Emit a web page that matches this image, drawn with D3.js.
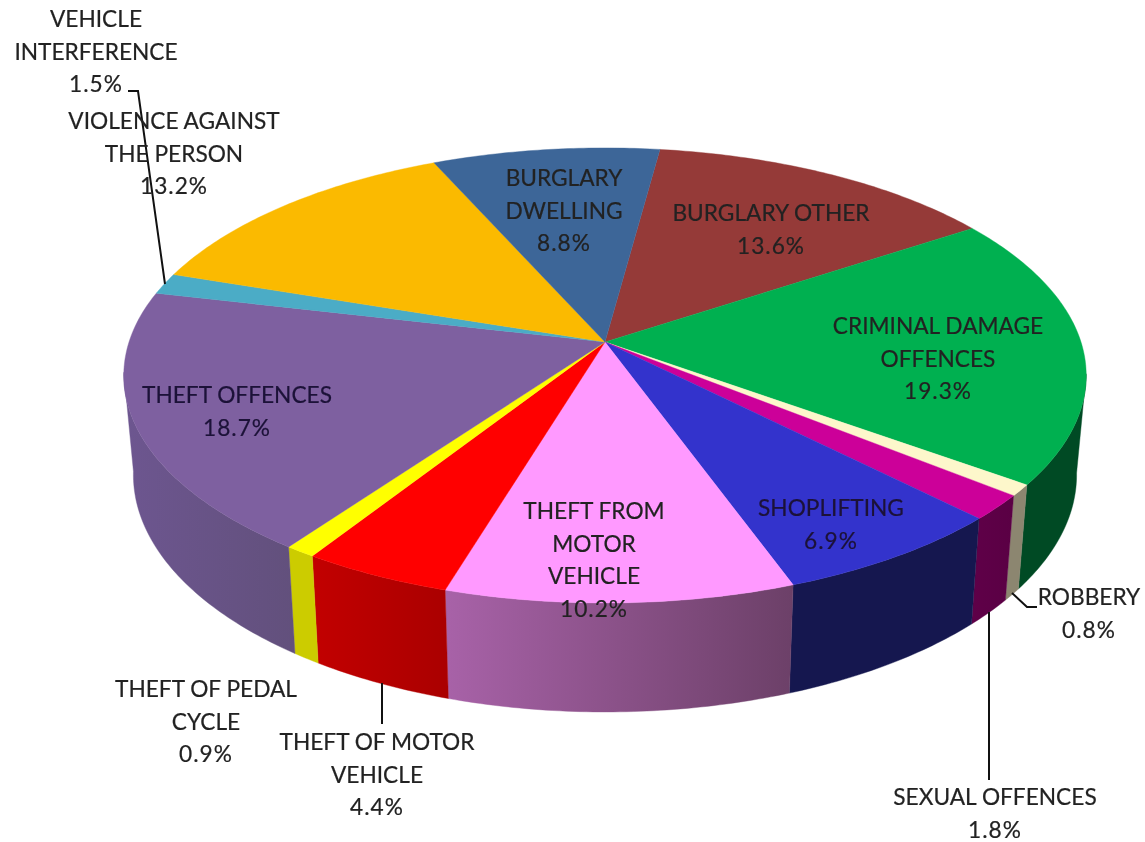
<!DOCTYPE html>
<html><head><meta charset="utf-8">
<style>html,body{margin:0;padding:0;background:#fff}svg{display:block;filter:blur(.55px)}</style>
<script src="https://cdn.jsdelivr.net/npm/d3@7/dist/d3.min.js"></script>
</head><body>
<svg id="c" width="1145" height="842"></svg>
<script>
const categories = ["BURGLARY OTHER","CRIMINAL DAMAGE OFFENCES","ROBBERY","SEXUAL OFFENCES","SHOPLIFTING","THEFT FROM MOTOR VEHICLE","THEFT OF MOTOR VEHICLE","THEFT OF PEDAL CYCLE","THEFT OFFENCES","VEHICLE INTERFERENCE","VIOLENCE AGAINST THE PERSON","BURGLARY DWELLING"];
const values = [13.6,19.3,0.8,1.8,6.9,10.2,4.4,0.9,18.7,1.5,13.2,8.8];
const labelLines = [["BURGLARY OTHER"],["CRIMINAL DAMAGE","OFFENCES"],["ROBBERY"],["SEXUAL OFFENCES"],["SHOPLIFTING"],["THEFT FROM","MOTOR","VEHICLE"],["THEFT OF MOTOR","VEHICLE"],["THEFT OF PEDAL","CYCLE"],["THEFT OFFENCES"],["VEHICLE","INTERFERENCE"],["VIOLENCE AGAINST","THE PERSON"],["BURGLARY","DWELLING"]];
const topColors = ["#953a38","#00b050","#fdf7cb","#cc0099","#3333cc","#ff99ff","#ff0000","#ffff00","#7e60a0","#4bacc6","#fbba00","#3d6698"];
const wallLeft = ["#5a2322","#004a24","#8c8670","#5f0048","#15174f","#a862a8","#c20000","#cccc00","#6d5690","#2f6c7c","#9a7400","#25405f"];
const wallRight = ["#5a2322","#004a24","#8c8670","#5a0044","#15174f","#6c4068","#aa0000","#cccc00","#62507c","#2f6c7c","#9a7400","#25405f"];
const labelX = [771,938,1089,995,831,594,377,206,237,96,174,564];
const labelTop = [221,334,605,805,516,519,750,697,403,27,129,186];
const lineStep = 32.6;
const leaders = [[[128,91],[138,91],[165,284]],[[1012,593],[1027,607],[1037,607]],[[989,612],[989,780]],[[382,683],[382,724]]];

const svg = d3.select("#c"), defs = svg.append("defs");
const cx = 605, cy = 342, k = 0.147;
const rad = d3.scaleLinear().domain([0,1]).range([0,476]);
const rise = d3.scaleLinear().domain([0,1]).range([0,222.6]);
const riseLow = d3.scaleLinear().domain([0,1]).range([0,232]);
const project = (a, r=1) => { const X=r*Math.sin(a), Y=-r*Math.cos(a), f=1/(1-k*Y); return [cx+rad(X)*f, cy+rise(Y)*f]; };
const projectLow = a => { const X=Math.sin(a), Y=-Math.cos(a), f=1/(1-k*Y); return [cx+0.98*rad(X)*f, 440+riseLow(Y)*f]; };

const start = 7.6*Math.PI/180;
const pie = d3.pie().sort(null).startAngle(start).endAngle(start+2*Math.PI);
const arcs = pie(values);
const line = d3.line();
const samples = (a,b) => { const n=Math.max(4,Math.ceil((b-a)*80)); return d3.range(n+1).map(i=>a+(b-a)*i/n); };

// walls
arcs.forEach((d,i)=>{
  const as = samples(d.startAngle,d.endAngle).filter(a=>-Math.cos(a)>=0.13);
  if(as.length<2) return;
  const up = as.map(a=>project(a)), low = as.map(a=>projectLow(a)).reverse();
  const xs = up.concat(low).map(p=>p[0]);
  const id="w"+i;
  const g = defs.append("linearGradient").attr("id",id).attr("gradientUnits","userSpaceOnUse")
    .attr("x1",d3.min(xs)).attr("x2",d3.max(xs)).attr("y1",0).attr("y2",0);
  g.append("stop").attr("offset",0).attr("stop-color",wallLeft[i]);
  g.append("stop").attr("offset",1).attr("stop-color",wallRight[i]);
  svg.append("path").attr("d",line(up.concat(low))+"Z").attr("fill",`url(#${id})`).attr("stroke",`url(#${id})`).attr("stroke-width",.4);
});
// top
arcs.forEach((d,i)=>{
  const pts=[[cx,cy]].concat(samples(d.startAngle,d.endAngle).map(a=>project(a)));
  svg.append("path").attr("d",line(pts)+"Z").attr("fill",topColors[i]).attr("stroke",topColors[i]).attr("stroke-width",.4);
});
// leaders
leaders.forEach(l=>svg.append("path").attr("d",line(l)).attr("fill","none").attr("stroke","#111").attr("stroke-width",2));
// labels
const fmt = d3.format(".1f");
categories.forEach((c,i)=>{
  const lines = labelLines[i];
  const col = (i===8||i===4)?"#1c1238":"#222";
  const t = svg.append("text").attr("text-anchor","middle").attr("font-family","Lato, 'Open Sans', sans-serif")
    .attr("font-size",22.7).attr("fill",col).attr("stroke",col).attr("stroke-width",.2);
  lines.forEach((s,j)=>t.append("tspan").attr("x",labelX[i]).attr("y",labelTop[i]+j*lineStep).text(s));
  t.append("tspan").attr("x",labelX[i]).attr("y",labelTop[i]+lines.length*lineStep).attr("letter-spacing",1).text(fmt(values[i])+"%");
});
</script>
</body></html>
